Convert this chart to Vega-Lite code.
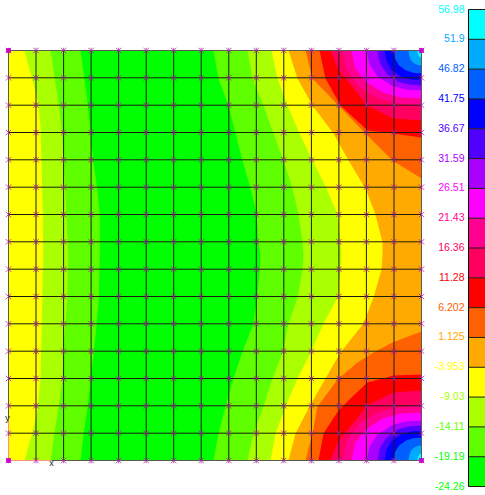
{"$schema":"https://vega.github.io/schema/vega-lite/v6.json","width":485,"height":495,"padding":0,"autosize":{"type":"none"},"background":"white","config":{"view":{"stroke":null}},
"datasets":{
"contours":[
{"k":"L0","y":0,"x":0},{"k":"L0","y":410,"x":0},
{"k":"L1","y":0,"x":16},{"k":"L1","y":35,"x":25.5},{"k":"L1","y":52,"x":29.7},{"k":"L1","y":75,"x":32},{"k":"L1","y":110,"x":33},{"k":"L1","y":162,"x":34.3},{"k":"L1","y":205,"x":34.7},{"k":"L1","y":285,"x":33},{"k":"L1","y":328,"x":32},{"k":"L1","y":362,"x":28.7},{"k":"L1","y":382,"x":24},{"k":"L1","y":410,"x":16},
{"k":"L2","y":0,"x":42},{"k":"L2","y":28,"x":46.3},{"k":"L2","y":55,"x":50.3},{"k":"L2","y":83,"x":53.7},{"k":"L2","y":110,"x":55.3},{"k":"L2","y":162,"x":57.7},{"k":"L2","y":205,"x":59.7},{"k":"L2","y":247,"x":58.7},{"k":"L2","y":285,"x":56},{"k":"L2","y":328,"x":54},{"k":"L2","y":355,"x":50.3},{"k":"L2","y":382,"x":46},{"k":"L2","y":410,"x":42},
{"k":"L3","y":0,"x":72},{"k":"L3","y":28,"x":76},{"k":"L3","y":55,"x":79.3},{"k":"L3","y":83,"x":82},{"k":"L3","y":115,"x":85.3},{"k":"L3","y":138,"x":88.7},{"k":"L3","y":165,"x":91.3},{"k":"L3","y":205,"x":91.3},{"k":"L3","y":247,"x":90.3},{"k":"L3","y":275,"x":88},{"k":"L3","y":302,"x":85.3},{"k":"L3","y":328,"x":82},{"k":"L3","y":355,"x":79.3},{"k":"L3","y":382,"x":75.3},{"k":"L3","y":410,"x":72},
{"k":"R1","y":0,"x":205},{"k":"R1","y":28,"x":210},{"k":"R1","y":55,"x":220},{"k":"R1","y":83,"x":227},{"k":"R1","y":110,"x":234},{"k":"R1","y":138,"x":242},{"k":"R1","y":162,"x":248},{"k":"R1","y":192,"x":250},{"k":"R1","y":205,"x":252},{"k":"R1","y":222,"x":251},{"k":"R1","y":247,"x":248.7},{"k":"R1","y":273,"x":245},{"k":"R1","y":302,"x":233.7},{"k":"R1","y":328,"x":225},{"k":"R1","y":356,"x":217},{"k":"R1","y":383,"x":210},{"k":"R1","y":410,"x":205},
{"k":"R2","y":0,"x":239},{"k":"R2","y":28,"x":244},{"k":"R2","y":55,"x":255},{"k":"R2","y":83,"x":265},{"k":"R2","y":110,"x":275},{"k":"R2","y":138,"x":284},{"k":"R2","y":164,"x":290},{"k":"R2","y":192,"x":294},{"k":"R2","y":205,"x":295},{"k":"R2","y":219,"x":294},{"k":"R2","y":247,"x":289},{"k":"R2","y":273,"x":280},{"k":"R2","y":302,"x":274},{"k":"R2","y":328,"x":264},{"k":"R2","y":356,"x":255},{"k":"R2","y":383,"x":245},{"k":"R2","y":410,"x":239},
{"k":"R3","y":0,"x":263},{"k":"R3","y":28,"x":269},{"k":"R3","y":55,"x":279},{"k":"R3","y":83,"x":291},{"k":"R3","y":110,"x":304},{"k":"R3","y":138,"x":318},{"k":"R3","y":164,"x":329},{"k":"R3","y":192,"x":332},{"k":"R3","y":205,"x":333},{"k":"R3","y":219,"x":332},{"k":"R3","y":247,"x":329},{"k":"R3","y":273,"x":315},{"k":"R3","y":302,"x":302},{"k":"R3","y":328,"x":289},{"k":"R3","y":356,"x":277},{"k":"R3","y":383,"x":267},{"k":"R3","y":410,"x":262},
{"k":"R4","y":0,"x":280},{"k":"R4","y":28,"x":289},{"k":"R4","y":55,"x":304},{"k":"R4","y":83,"x":325},{"k":"R4","y":110,"x":340},{"k":"R4","y":138,"x":357},{"k":"R4","y":164,"x":367},{"k":"R4","y":192,"x":374},{"k":"R4","y":205,"x":374},{"k":"R4","y":219,"x":373},{"k":"R4","y":247,"x":365},{"k":"R4","y":273,"x":355},{"k":"R4","y":302,"x":332},{"k":"R4","y":328,"x":317},{"k":"R4","y":356,"x":301},{"k":"R4","y":383,"x":287},{"k":"R4","y":410,"x":280},
{"k":"R5","y":0,"x":297},{"k":"R5","y":28,"x":304},{"k":"R5","y":55,"x":330},{"k":"R5","y":83,"x":357},{"k":"R5","y":110,"x":384},{"k":"R5","y":128,"x":413},{"k":"R5","y":281,"x":413},{"k":"R5","y":292,"x":384},{"k":"R5","y":302,"x":365},{"k":"R5","y":312,"x":349},{"k":"R5","y":328,"x":330},{"k":"R5","y":356,"x":309},{"k":"R5","y":383,"x":304},{"k":"R5","y":410,"x":297},
{"k":"R6","y":0,"x":311},{"k":"R6","y":28,"x":317},{"k":"R6","y":55,"x":332},{"k":"R6","y":80,"x":359},{"k":"R6","y":83,"x":385},{"k":"R6","y":87,"x":413},{"k":"R6","y":324,"x":413},{"k":"R6","y":325,"x":385},{"k":"R6","y":332,"x":359},{"k":"R6","y":345,"x":345},{"k":"R6","y":360,"x":330},{"k":"R6","y":383,"x":315},{"k":"R6","y":410,"x":310},
{"k":"R7","y":0,"x":322},{"k":"R7","y":20,"x":330},{"k":"R7","y":28,"x":337},{"k":"R7","y":55,"x":359},{"k":"R7","y":68,"x":385},{"k":"R7","y":70,"x":413},{"k":"R7","y":340,"x":413},{"k":"R7","y":342,"x":385},{"k":"R7","y":355,"x":359},{"k":"R7","y":382,"x":337},{"k":"R7","y":390,"x":330},{"k":"R7","y":410,"x":322},
{"k":"R8","y":0,"x":334},{"k":"R8","y":19,"x":338},{"k":"R8","y":36,"x":350},{"k":"R8","y":48,"x":369.5},{"k":"R8","y":53,"x":389},{"k":"R8","y":55,"x":413},{"k":"R8","y":355,"x":413},{"k":"R8","y":357,"x":389},{"k":"R8","y":362,"x":369.5},{"k":"R8","y":374,"x":350},{"k":"R8","y":391,"x":338},{"k":"R8","y":410,"x":334},
{"k":"R9","y":0,"x":343},{"k":"R9","y":17,"x":346.5},{"k":"R9","y":31,"x":357},{"k":"R9","y":42,"x":374.5},{"k":"R9","y":47,"x":392},{"k":"R9","y":48,"x":413},{"k":"R9","y":362,"x":413},{"k":"R9","y":363,"x":392},{"k":"R9","y":368,"x":374.5},{"k":"R9","y":379,"x":357},{"k":"R9","y":393,"x":346.5},{"k":"R9","y":410,"x":343},
{"k":"R10","y":0,"x":358},{"k":"R10","y":14,"x":361},{"k":"R10","y":26,"x":369},{"k":"R10","y":35,"x":383},{"k":"R10","y":39,"x":396.5},{"k":"R10","y":40,"x":413},{"k":"R10","y":370,"x":413},{"k":"R10","y":371,"x":396.5},{"k":"R10","y":375,"x":383},{"k":"R10","y":384,"x":369},{"k":"R10","y":396,"x":361},{"k":"R10","y":410,"x":358},
{"k":"R11","y":0,"x":369},{"k":"R11","y":12,"x":371},{"k":"R11","y":23,"x":378},{"k":"R11","y":31,"x":389},{"k":"R11","y":34,"x":400},{"k":"R11","y":35,"x":413},{"k":"R11","y":375,"x":413},{"k":"R11","y":376,"x":400},{"k":"R11","y":379,"x":389},{"k":"R11","y":387,"x":378},{"k":"R11","y":398,"x":371},{"k":"R11","y":410,"x":369},
{"k":"R12","y":0,"x":376},{"k":"R12","y":10.5,"x":378},{"k":"R12","y":19.5,"x":383},{"k":"R12","y":26.4,"x":393},{"k":"R12","y":29,"x":402},{"k":"R12","y":30,"x":413},{"k":"R12","y":380,"x":413},{"k":"R12","y":381,"x":402},{"k":"R12","y":383.6,"x":393},{"k":"R12","y":390.5,"x":383},{"k":"R12","y":399.5,"x":378},{"k":"R12","y":410,"x":376},
{"k":"R13","y":0,"x":385},{"k":"R13","y":8,"x":386.4},{"k":"R13","y":15,"x":390.6},{"k":"R13","y":20,"x":397.6},{"k":"R13","y":22.3,"x":404.6},{"k":"R13","y":23,"x":413},{"k":"R13","y":387,"x":413},{"k":"R13","y":387.7,"x":404.6},{"k":"R13","y":390,"x":397.6},{"k":"R13","y":395,"x":390.6},{"k":"R13","y":402,"x":386.4},{"k":"R13","y":410,"x":385},
{"k":"R14","y":0,"x":400},{"k":"R14","y":5,"x":400.7},{"k":"R14","y":10,"x":402.6},{"k":"R14","y":13,"x":405.9},{"k":"R14","y":14.5,"x":409.1},{"k":"R14","y":15,"x":413},{"k":"R14","y":395,"x":413},{"k":"R14","y":395.5,"x":409.1},{"k":"R14","y":397,"x":405.9},{"k":"R14","y":400,"x":402.6},{"k":"R14","y":405,"x":400.7},{"k":"R14","y":410,"x":400},
{"k":"R15","y":0,"x":409},{"k":"R15","y":2.5,"x":409.2},{"k":"R15","y":4.5,"x":409.8},{"k":"R15","y":6,"x":410.8},{"k":"R15","y":6.8,"x":411.8},{"k":"R15","y":7,"x":413},{"k":"R15","y":403,"x":413},{"k":"R15","y":403.2,"x":411.8},{"k":"R15","y":404,"x":410.8},{"k":"R15","y":405.5,"x":409.8},{"k":"R15","y":407.5,"x":409.2},{"k":"R15","y":410,"x":409}
],
"xlines":[{"x":27.5,"y0":0,"y1":410},{"x":55.1,"y0":0,"y1":410},{"x":82.6,"y0":0,"y1":410},{"x":110.1,"y0":0,"y1":410},{"x":137.7,"y0":0,"y1":410},{"x":165.2,"y0":0,"y1":410},{"x":192.7,"y0":0,"y1":410},{"x":220.3,"y0":0,"y1":410},{"x":247.8,"y0":0,"y1":410},{"x":275.3,"y0":0,"y1":410},{"x":302.9,"y0":0,"y1":410},{"x":330.4,"y0":0,"y1":410},{"x":357.9,"y0":0,"y1":410},{"x":385.5,"y0":0,"y1":410}],
"ylines":[{"y":27.3,"x0":0,"x1":413},{"y":54.7,"x0":0,"x1":413},{"y":82,"x0":0,"x1":413},{"y":109.3,"x0":0,"x1":413},{"y":136.7,"x0":0,"x1":413},{"y":164,"x0":0,"x1":413},{"y":191.3,"x0":0,"x1":413},{"y":218.7,"x0":0,"x1":413},{"y":246,"x0":0,"x1":413},{"y":273.3,"x0":0,"x1":413},{"y":300.7,"x0":0,"x1":413},{"y":328,"x0":0,"x1":413},{"y":355.3,"x0":0,"x1":413},{"y":382.7,"x0":0,"x1":413}],
"legend":[
{"label":"56.98","v":56.98,"lo":51.9},{"label":"51.9","v":51.9,"lo":46.82},{"label":"46.82","v":46.82,"lo":41.75},{"label":"41.75","v":41.75,"lo":36.67},{"label":"36.67","v":36.67,"lo":31.59},{"label":"31.59","v":31.59,"lo":26.51},{"label":"26.51","v":26.51,"lo":21.43},{"label":"21.43","v":21.43,"lo":16.36},{"label":"16.36","v":16.36,"lo":11.28},{"label":"11.28","v":11.28,"lo":6.202},{"label":"6.202","v":6.202,"lo":1.125},{"label":"1.125","v":1.125,"lo":-3.953},{"label":"-3.953","v":-3.953,"lo":-9.03},{"label":"-9.03","v":-9.03,"lo":-14.11},{"label":"-14.11","v":-14.11,"lo":-19.19},{"label":"-19.19","v":-19.19,"lo":-24.26},{"label":"-24.26","v":-24.26,"lo":-24.26}
],
"nodes":[
{"x":0,"y":0},{"x":27.5,"y":0},{"x":55.1,"y":0},{"x":82.6,"y":0},{"x":110.1,"y":0},{"x":137.7,"y":0},{"x":165.2,"y":0},{"x":192.7,"y":0},{"x":220.3,"y":0},{"x":247.8,"y":0},{"x":275.3,"y":0},{"x":302.9,"y":0},{"x":330.4,"y":0},{"x":357.9,"y":0},{"x":385.5,"y":0},{"x":413,"y":0},
{"x":0,"y":27.3},{"x":27.5,"y":27.3},{"x":55.1,"y":27.3},{"x":82.6,"y":27.3},{"x":110.1,"y":27.3},{"x":137.7,"y":27.3},{"x":165.2,"y":27.3},{"x":192.7,"y":27.3},{"x":220.3,"y":27.3},{"x":247.8,"y":27.3},{"x":275.3,"y":27.3},{"x":302.9,"y":27.3},{"x":330.4,"y":27.3},{"x":357.9,"y":27.3},{"x":385.5,"y":27.3},{"x":413,"y":27.3},
{"x":0,"y":54.7},{"x":27.5,"y":54.7},{"x":55.1,"y":54.7},{"x":82.6,"y":54.7},{"x":110.1,"y":54.7},{"x":137.7,"y":54.7},{"x":165.2,"y":54.7},{"x":192.7,"y":54.7},{"x":220.3,"y":54.7},{"x":247.8,"y":54.7},{"x":275.3,"y":54.7},{"x":302.9,"y":54.7},{"x":330.4,"y":54.7},{"x":357.9,"y":54.7},{"x":385.5,"y":54.7},{"x":413,"y":54.7},
{"x":0,"y":82},{"x":27.5,"y":82},{"x":55.1,"y":82},{"x":82.6,"y":82},{"x":110.1,"y":82},{"x":137.7,"y":82},{"x":165.2,"y":82},{"x":192.7,"y":82},{"x":220.3,"y":82},{"x":247.8,"y":82},{"x":275.3,"y":82},{"x":302.9,"y":82},{"x":330.4,"y":82},{"x":357.9,"y":82},{"x":385.5,"y":82},{"x":413,"y":82},
{"x":0,"y":109.3},{"x":27.5,"y":109.3},{"x":55.1,"y":109.3},{"x":82.6,"y":109.3},{"x":110.1,"y":109.3},{"x":137.7,"y":109.3},{"x":165.2,"y":109.3},{"x":192.7,"y":109.3},{"x":220.3,"y":109.3},{"x":247.8,"y":109.3},{"x":275.3,"y":109.3},{"x":302.9,"y":109.3},{"x":330.4,"y":109.3},{"x":357.9,"y":109.3},{"x":385.5,"y":109.3},{"x":413,"y":109.3},
{"x":0,"y":136.7},{"x":27.5,"y":136.7},{"x":55.1,"y":136.7},{"x":82.6,"y":136.7},{"x":110.1,"y":136.7},{"x":137.7,"y":136.7},{"x":165.2,"y":136.7},{"x":192.7,"y":136.7},{"x":220.3,"y":136.7},{"x":247.8,"y":136.7},{"x":275.3,"y":136.7},{"x":302.9,"y":136.7},{"x":330.4,"y":136.7},{"x":357.9,"y":136.7},{"x":385.5,"y":136.7},{"x":413,"y":136.7},
{"x":0,"y":164},{"x":27.5,"y":164},{"x":55.1,"y":164},{"x":82.6,"y":164},{"x":110.1,"y":164},{"x":137.7,"y":164},{"x":165.2,"y":164},{"x":192.7,"y":164},{"x":220.3,"y":164},{"x":247.8,"y":164},{"x":275.3,"y":164},{"x":302.9,"y":164},{"x":330.4,"y":164},{"x":357.9,"y":164},{"x":385.5,"y":164},{"x":413,"y":164},
{"x":0,"y":191.3},{"x":27.5,"y":191.3},{"x":55.1,"y":191.3},{"x":82.6,"y":191.3},{"x":110.1,"y":191.3},{"x":137.7,"y":191.3},{"x":165.2,"y":191.3},{"x":192.7,"y":191.3},{"x":220.3,"y":191.3},{"x":247.8,"y":191.3},{"x":275.3,"y":191.3},{"x":302.9,"y":191.3},{"x":330.4,"y":191.3},{"x":357.9,"y":191.3},{"x":385.5,"y":191.3},{"x":413,"y":191.3},
{"x":0,"y":218.7},{"x":27.5,"y":218.7},{"x":55.1,"y":218.7},{"x":82.6,"y":218.7},{"x":110.1,"y":218.7},{"x":137.7,"y":218.7},{"x":165.2,"y":218.7},{"x":192.7,"y":218.7},{"x":220.3,"y":218.7},{"x":247.8,"y":218.7},{"x":275.3,"y":218.7},{"x":302.9,"y":218.7},{"x":330.4,"y":218.7},{"x":357.9,"y":218.7},{"x":385.5,"y":218.7},{"x":413,"y":218.7},
{"x":0,"y":246},{"x":27.5,"y":246},{"x":55.1,"y":246},{"x":82.6,"y":246},{"x":110.1,"y":246},{"x":137.7,"y":246},{"x":165.2,"y":246},{"x":192.7,"y":246},{"x":220.3,"y":246},{"x":247.8,"y":246},{"x":275.3,"y":246},{"x":302.9,"y":246},{"x":330.4,"y":246},{"x":357.9,"y":246},{"x":385.5,"y":246},{"x":413,"y":246},
{"x":0,"y":273.3},{"x":27.5,"y":273.3},{"x":55.1,"y":273.3},{"x":82.6,"y":273.3},{"x":110.1,"y":273.3},{"x":137.7,"y":273.3},{"x":165.2,"y":273.3},{"x":192.7,"y":273.3},{"x":220.3,"y":273.3},{"x":247.8,"y":273.3},{"x":275.3,"y":273.3},{"x":302.9,"y":273.3},{"x":330.4,"y":273.3},{"x":357.9,"y":273.3},{"x":385.5,"y":273.3},{"x":413,"y":273.3},
{"x":0,"y":300.7},{"x":27.5,"y":300.7},{"x":55.1,"y":300.7},{"x":82.6,"y":300.7},{"x":110.1,"y":300.7},{"x":137.7,"y":300.7},{"x":165.2,"y":300.7},{"x":192.7,"y":300.7},{"x":220.3,"y":300.7},{"x":247.8,"y":300.7},{"x":275.3,"y":300.7},{"x":302.9,"y":300.7},{"x":330.4,"y":300.7},{"x":357.9,"y":300.7},{"x":385.5,"y":300.7},{"x":413,"y":300.7},
{"x":0,"y":328},{"x":27.5,"y":328},{"x":55.1,"y":328},{"x":82.6,"y":328},{"x":110.1,"y":328},{"x":137.7,"y":328},{"x":165.2,"y":328},{"x":192.7,"y":328},{"x":220.3,"y":328},{"x":247.8,"y":328},{"x":275.3,"y":328},{"x":302.9,"y":328},{"x":330.4,"y":328},{"x":357.9,"y":328},{"x":385.5,"y":328},{"x":413,"y":328},
{"x":0,"y":355.3},{"x":27.5,"y":355.3},{"x":55.1,"y":355.3},{"x":82.6,"y":355.3},{"x":110.1,"y":355.3},{"x":137.7,"y":355.3},{"x":165.2,"y":355.3},{"x":192.7,"y":355.3},{"x":220.3,"y":355.3},{"x":247.8,"y":355.3},{"x":275.3,"y":355.3},{"x":302.9,"y":355.3},{"x":330.4,"y":355.3},{"x":357.9,"y":355.3},{"x":385.5,"y":355.3},{"x":413,"y":355.3},
{"x":0,"y":382.7},{"x":27.5,"y":382.7},{"x":55.1,"y":382.7},{"x":82.6,"y":382.7},{"x":110.1,"y":382.7},{"x":137.7,"y":382.7},{"x":165.2,"y":382.7},{"x":192.7,"y":382.7},{"x":220.3,"y":382.7},{"x":247.8,"y":382.7},{"x":275.3,"y":382.7},{"x":302.9,"y":382.7},{"x":330.4,"y":382.7},{"x":357.9,"y":382.7},{"x":385.5,"y":382.7},{"x":413,"y":382.7},
{"x":0,"y":410},{"x":27.5,"y":410},{"x":55.1,"y":410},{"x":82.6,"y":410},{"x":110.1,"y":410},{"x":137.7,"y":410},{"x":165.2,"y":410},{"x":192.7,"y":410},{"x":220.3,"y":410},{"x":247.8,"y":410},{"x":275.3,"y":410},{"x":302.9,"y":410},{"x":330.4,"y":410},{"x":357.9,"y":410},{"x":385.5,"y":410},{"x":413,"y":410}
]
},
"resolve":{"scale":{"x":"independent","y":"independent","color":"independent"}},
"layer":[
{"encoding":{"x":{"field":"x","type":"quantitative","scale":{"domain":[0,413],"range":[8.5,421.5],"nice":false,"zero":false},"axis":null},"y":{"field":"y","type":"quantitative","scale":{"domain":[0,410],"range":[50.5,460.5],"nice":false,"zero":false},"axis":null}},
"layer":[
{"data":{"name":"contours"},"mark":{"type":"area","orient":"horizontal","interpolate":"linear"},"encoding":{"x":{"field":"x","type":"quantitative","stack":null},"x2":{"datum":413},"y":{"field":"y","type":"quantitative"},"color":{"field":"k","type":"nominal","sort":null,"scale":{"domain":["L0","L1","L2","L3","R1","R2","R3","R4","R5","R6","R7","R8","R9","R10","R11","R12","R13","R14","R15"],"range":["#FFFF00","#AAFF00","#5FFF00","#00FF00","#5FFF00","#AAFF00","#FFFF00","#FFAA00","#FF6000","#FF0000","#FF0060","#FF0090","#FF00FF","#AA00FF","#5000FF","#0000FF","#0060FF","#00AAFF","#00FFFF"]},"legend":null}}},
{"data":{"name":"xlines"},"mark":{"type":"rule","stroke":"#1c1c10","strokeWidth":1},"encoding":{"x":{"field":"x","type":"quantitative"},"y":{"field":"y0","type":"quantitative"},"y2":{"field":"y1"}}},
{"data":{"name":"ylines"},"mark":{"type":"rule","stroke":"#1c1c10","strokeWidth":1},"encoding":{"y":{"field":"y","type":"quantitative"},"x":{"field":"x0","type":"quantitative"},"x2":{"field":"x1"}}},
{"data":{"values":[{"x":0,"y0":0,"y1":368},{"x":413,"y0":0,"y1":410}]},"mark":{"type":"rule","stroke":"#5a5a50","strokeWidth":1},"encoding":{"x":{"field":"x","type":"quantitative"},"y":{"field":"y0","type":"quantitative"},"y2":{"field":"y1"}}},
{"data":{"values":[{"y":0,"x0":0,"x1":413},{"y":410,"x0":43,"x1":413}]},"mark":{"type":"rule","stroke":"#5a5a50","strokeWidth":1},"encoding":{"y":{"field":"y","type":"quantitative"},"x":{"field":"x0","type":"quantitative"},"x2":{"field":"x1"}}},
{"data":{"values":[{"x":0,"y0":368,"y1":410}]},"mark":{"type":"rule","stroke":"#FF9080","strokeWidth":1},"encoding":{"x":{"field":"x","type":"quantitative"},"y":{"field":"y0","type":"quantitative"},"y2":{"field":"y1"}}},
{"data":{"values":[{"y":410,"x0":0,"x1":43}]},"mark":{"type":"rule","stroke":"#FF9080","strokeWidth":1},"encoding":{"y":{"field":"y","type":"quantitative"},"x":{"field":"x0","type":"quantitative"},"x2":{"field":"x1"}}},
{"data":{"name":"nodes"},"mark":{"type":"point","shape":"M-1,-1L1,1M-1,1L1,-1M0,-1L0,1","filled":false,"stroke":"#A820A8","strokeWidth":1,"opacity":0.75,"size":30}},
{"data":{"values":[{"x":0,"y":0},{"x":413,"y":0},{"x":0,"y":410},{"x":413,"y":410}]},"mark":{"type":"square","color":"#CC00CC","opacity":1,"size":22}},
{"data":{"values":[{"x":-1,"y":367,"t":"y"},{"x":43,"y":412,"t":"x"}]},"mark":{"type":"text","font":"Liberation Sans","fontSize":9,"color":"#222222","align":"center","baseline":"middle"},"encoding":{"text":{"field":"t"}}}
]},
{"data":{"name":"legend"},"encoding":{"y":{"field":"v","type":"quantitative","scale":{"domain":[-24.26,56.98],"range":[486.5,9.5],"nice":false,"zero":false},"axis":null}},
"layer":[
{"transform":[{"filter":"datum.label !== '-24.26'"}],"mark":{"type":"rect"},"encoding":{"x":{"datum":0,"type":"quantitative","scale":{"domain":[0,1],"range":[468.5,490],"nice":false,"zero":false},"axis":null},"x2":{"datum":1},"y2":{"field":"lo"},"color":{"field":"label","type":"nominal","sort":null,"scale":{"domain":["56.98","51.9","46.82","41.75","36.67","31.59","26.51","21.43","16.36","11.28","6.202","1.125","-3.953","-9.03","-14.11","-19.19","-24.26"],"range":["#00FFFF","#00AAFF","#0060FF","#0000FF","#5000FF","#AA00FF","#FF00FF","#FF0090","#FF0060","#FF0000","#FF6000","#FFAA00","#FFFF00","#AAFF00","#5FFF00","#00FF00","#00FF00"]},"legend":null}}},
{"mark":{"type":"rule","stroke":"#1c1c10","strokeWidth":1},"encoding":{"x":{"datum":0,"type":"quantitative"},"x2":{"datum":1}}},
{"data":{"values":[{"v":-24.26,"hi":56.98}]},"mark":{"type":"rule","stroke":"#000000","strokeWidth":1},"encoding":{"x":{"datum":0,"type":"quantitative"},"y2":{"field":"hi"}}},
{"mark":{"type":"text","font":"Liberation Sans","fontSize":10.5,"align":"right","baseline":"middle","dx":-4},"encoding":{"x":{"datum":0,"type":"quantitative"},"text":{"field":"label"},"color":{"field":"label","type":"nominal","sort":null,"legend":null}}}
]}
]}
